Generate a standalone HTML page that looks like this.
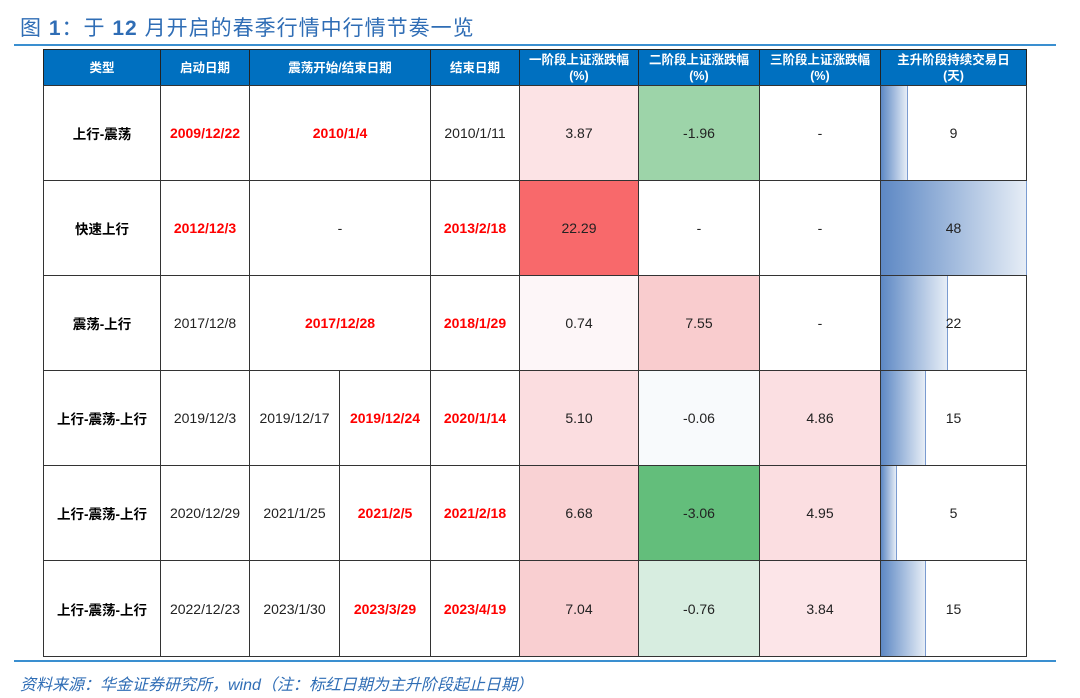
<!DOCTYPE html>
<html><head><meta charset="utf-8"><style>
body{margin:0;width:1080px;height:698px;background:#fff;position:relative;overflow:hidden;font-family:"Liberation Sans","Noto Sans CJK SC",sans-serif}
.t{position:absolute;left:20px;top:12px;font-size:21px;color:#2f6db5;letter-spacing:1px;white-space:nowrap}
.ln{position:absolute;left:14px;width:1042px;height:2px;background:#3a8fd0}
.c{position:absolute;box-sizing:border-box;border:1px solid #333;display:flex;align-items:center;justify-content:center;text-align:center;font-size:14px;color:#222}
.h{background:#0070c0;color:#fff;font-weight:bold;font-size:12.5px;line-height:16px;border-color:#222}
.b{font-weight:bold;color:#000;font-size:13.5px}
.r{color:#f00;font-weight:bold}
.bar{position:absolute;left:0;top:0;bottom:0;background:linear-gradient(90deg,#5d88c4,#e6edf6);border-right:1px solid #7a9bd0}
.v{position:relative}
.f{position:absolute;left:20px;top:671px;font-size:16px;color:#2f6db5;font-style:italic;white-space:nowrap}
</style></head><body>
<div class="t">图 <b>1</b>：于 <b>12</b> 月开启的春季行情中行情节奏一览</div>
<div class="ln" style="top:44px"></div>
<div class="ln" style="top:660px"></div>

<div class="c h" style="left:43px;top:49px;width:118px;height:37px">类型</div>
<div class="c h" style="left:160px;top:49px;width:90px;height:37px">启动日期</div>
<div class="c h" style="left:249px;top:49px;width:182px;height:37px">震荡开始/结束日期</div>
<div class="c h" style="left:430px;top:49px;width:90px;height:37px">结束日期</div>
<div class="c h" style="left:519px;top:49px;width:120px;height:37px">一阶段上证涨跌幅<br>(%)</div>
<div class="c h" style="left:638px;top:49px;width:122px;height:37px">二阶段上证涨跌幅<br>(%)</div>
<div class="c h" style="left:759px;top:49px;width:122px;height:37px">三阶段上证涨跌幅<br>(%)</div>
<div class="c h" style="left:880px;top:49px;width:147px;height:37px">主升阶段持续交易日<br>(天)</div>

<!-- row1 85-180 -->
<div class="c b" style="left:43px;top:85px;width:118px;height:96px">上行-震荡</div>
<div class="c r" style="left:160px;top:85px;width:90px;height:96px">2009/12/22</div>
<div class="c r" style="left:249px;top:85px;width:182px;height:96px">2010/1/4</div>
<div class="c" style="left:430px;top:85px;width:90px;height:96px">2010/1/11</div>
<div class="c" style="left:519px;top:85px;width:120px;height:96px;background:#fce3e5">3.87</div>
<div class="c" style="left:638px;top:85px;width:122px;height:96px;background:#9dd4a9">-1.96</div>
<div class="c" style="left:759px;top:85px;width:122px;height:96px">-</div>
<div class="c" style="left:880px;top:85px;width:147px;height:96px"><div class="bar" style="width:26px"></div><span class="v">9</span></div>

<!-- row2 180-275 -->
<div class="c b" style="left:43px;top:180px;width:118px;height:96px">快速上行</div>
<div class="c r" style="left:160px;top:180px;width:90px;height:96px">2012/12/3</div>
<div class="c" style="left:249px;top:180px;width:182px;height:96px">-</div>
<div class="c r" style="left:430px;top:180px;width:90px;height:96px">2013/2/18</div>
<div class="c" style="left:519px;top:180px;width:120px;height:96px;background:#f8696b">22.29</div>
<div class="c" style="left:638px;top:180px;width:122px;height:96px">-</div>
<div class="c" style="left:759px;top:180px;width:122px;height:96px">-</div>
<div class="c" style="left:880px;top:180px;width:147px;height:96px"><div class="bar" style="width:145px"></div><span class="v">48</span></div>

<!-- row3 275-370 -->
<div class="c b" style="left:43px;top:275px;width:118px;height:96px">震荡-上行</div>
<div class="c" style="left:160px;top:275px;width:90px;height:96px">2017/12/8</div>
<div class="c r" style="left:249px;top:275px;width:182px;height:96px">2017/12/28</div>
<div class="c r" style="left:430px;top:275px;width:90px;height:96px">2018/1/29</div>
<div class="c" style="left:519px;top:275px;width:120px;height:96px;background:#fdf6f8">0.74</div>
<div class="c" style="left:638px;top:275px;width:122px;height:96px;background:#f9ccce">7.55</div>
<div class="c" style="left:759px;top:275px;width:122px;height:96px">-</div>
<div class="c" style="left:880px;top:275px;width:147px;height:96px"><div class="bar" style="width:66px"></div><span class="v">22</span></div>

<!-- row4 370-465 -->
<div class="c b" style="left:43px;top:370px;width:118px;height:96px">上行-震荡-上行</div>
<div class="c" style="left:160px;top:370px;width:90px;height:96px">2019/12/3</div>
<div class="c" style="left:249px;top:370px;width:91px;height:96px">2019/12/17</div>
<div class="c r" style="left:339px;top:370px;width:92px;height:96px">2019/12/24</div>
<div class="c r" style="left:430px;top:370px;width:90px;height:96px">2020/1/14</div>
<div class="c" style="left:519px;top:370px;width:120px;height:96px;background:#fbdde0">5.10</div>
<div class="c" style="left:638px;top:370px;width:122px;height:96px;background:#f8fafc">-0.06</div>
<div class="c" style="left:759px;top:370px;width:122px;height:96px;background:#fbdfe2">4.86</div>
<div class="c" style="left:880px;top:370px;width:147px;height:96px"><div class="bar" style="width:44px"></div><span class="v">15</span></div>

<!-- row5 465-560 -->
<div class="c b" style="left:43px;top:465px;width:118px;height:96px">上行-震荡-上行</div>
<div class="c" style="left:160px;top:465px;width:90px;height:96px">2020/12/29</div>
<div class="c" style="left:249px;top:465px;width:91px;height:96px">2021/1/25</div>
<div class="c r" style="left:339px;top:465px;width:92px;height:96px">2021/2/5</div>
<div class="c r" style="left:430px;top:465px;width:90px;height:96px">2021/2/18</div>
<div class="c" style="left:519px;top:465px;width:120px;height:96px;background:#f9d2d4">6.68</div>
<div class="c" style="left:638px;top:465px;width:122px;height:96px;background:#63be7b">-3.06</div>
<div class="c" style="left:759px;top:465px;width:122px;height:96px;background:#fbdee1">4.95</div>
<div class="c" style="left:880px;top:465px;width:147px;height:96px"><div class="bar" style="width:15px"></div><span class="v">5</span></div>

<!-- row6 560-656 -->
<div class="c b" style="left:43px;top:560px;width:118px;height:97px">上行-震荡-上行</div>
<div class="c" style="left:160px;top:560px;width:90px;height:97px">2022/12/23</div>
<div class="c" style="left:249px;top:560px;width:91px;height:97px">2023/1/30</div>
<div class="c r" style="left:339px;top:560px;width:92px;height:97px">2023/3/29</div>
<div class="c r" style="left:430px;top:560px;width:90px;height:97px">2023/4/19</div>
<div class="c" style="left:519px;top:560px;width:120px;height:97px;background:#f9cfd1">7.04</div>
<div class="c" style="left:638px;top:560px;width:122px;height:97px;background:#d7ede0">-0.76</div>
<div class="c" style="left:759px;top:560px;width:122px;height:97px;background:#fce5e8">3.84</div>
<div class="c" style="left:880px;top:560px;width:147px;height:97px"><div class="bar" style="width:44px"></div><span class="v">15</span></div>

<div class="f">资料来源：华金证券研究所，wind（注：标红日期为主升阶段起止日期）</div>
</body></html>
